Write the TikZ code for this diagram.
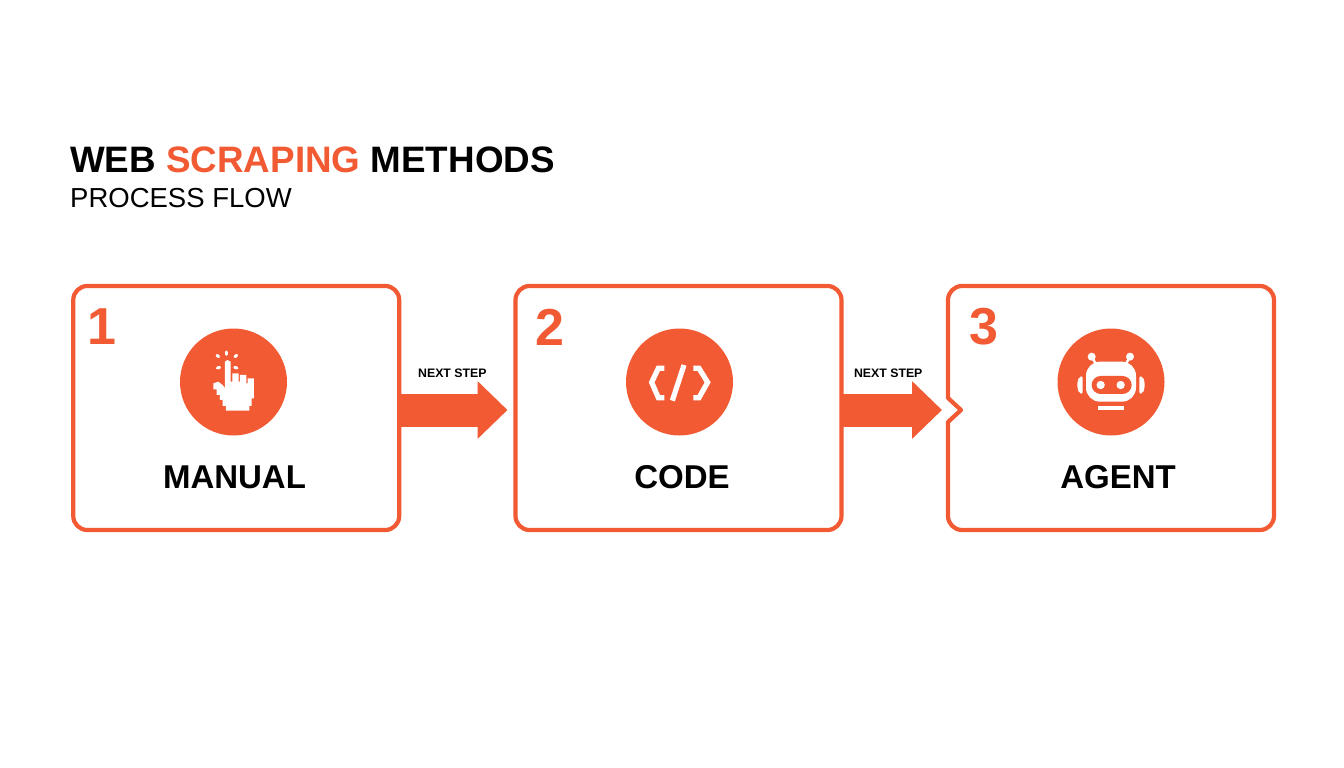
\documentclass[tikz,border=0pt]{standalone}
\usepackage{fontspec}
\setmainfont{Liberation Sans}
\usetikzlibrary{arrows.meta}
\definecolor{flamecol}{HTML}{F15A33}
\tikzset{
  boxline/.style={draw=flamecol, line width=4.2pt, line join=round},
  stepbox/.style={boxline, rounded corners=14pt, minimum width=326pt, minimum height=244pt, inner sep=0pt, outer sep=0pt},
  badge/.style={circle, fill=flamecol, minimum size=107pt, inner sep=0pt, outer sep=0pt},
  stepnum/.style={text=flamecol, inner sep=0pt, font=\bfseries\fontsize{52}{52}\selectfont},
  steptitle/.style={text=black, inner sep=0pt, font=\bfseries\fontsize{33}{36}\selectfont},
  steplabel/.style={text=black, inner sep=0pt, font=\bfseries\fontsize{12.3}{14}\selectfont},
  flowarrow/.style={draw=flamecol, line width=33pt, -{Triangle[length=30pt, width=56pt]}},
  iconpart/.style={fill=white, draw=none},
  iconline/.style={draw=white, line width=5.2pt},
  sparkline/.style={draw=white, line width=3pt, line cap=round},
  iconscale/.style={x=0.3333pt, y=-0.3333pt}
}
\begin{document}
\begin{tikzpicture}[x=1pt, y=-1pt]
  \newcommand\YBox{408};
  \newcommand\YIcon{382};
  \newcommand\YName{477};

  \useasboundingbox (0, 0) rectangle (1344, 768);

  %% heading
  \node[anchor=base west, inner sep=0pt, font=\bfseries\fontsize{36.8}{40}\selectfont] (title) at (70, 172)
    {WEB \textcolor{flamecol}{SCRAPING} METHODS};
  \node[anchor=base west, inner sep=0pt, font=\fontsize{27.5}{30}\selectfont] (subtitle) at (70, 207) {PROCESS FLOW};

  %% the three boxes
  \node[stepbox] (manual) at (236.25, \YBox) {};
  \node[stepbox] (code) at (678.5, \YBox) {};
  \node[stepbox, draw=none] (agent) at (1111, \YBox) {};
  \draw[boxline] ([yshift=10pt]agent.west) [rounded corners=14pt] -- (agent.north west)
    -- (agent.north east) -- (agent.south east) -- (agent.south west) [sharp corners]
    -- ([yshift=-14pt]agent.west) -- ([xshift=13pt, yshift=-2pt]agent.west) -- cycle;

  \node[stepnum] (numone) at (102, 327) {1};
  \node[stepnum] (numtwo) at (550, 327) {2};
  \node[stepnum] (numthree) at (984, 327) {3};

  \node[badge] (handbadge) at (233.5, \YIcon) {};
  \node[badge] (codebadge) at (679.5, \YIcon) {};
  \node[badge] (botbadge) at (1111, \YIcon) {};

  \node[steptitle] (manualname) at (234.5, \YName) {MANUAL};
  \node[steptitle] (codename) at (682, \YName) {CODE};
  \node[steptitle] (agentname) at (1118, \YName) {AGENT};

  %% arrows
  \draw[flowarrow, shorten >=8pt] ([yshift=-2pt]manual.east) --
    node[steplabel, xshift=-5pt, yshift=37pt]{NEXT STEP} ([yshift=-2pt]code.west);
  \draw[flowarrow, shorten >=6pt] ([yshift=-2pt]code.east) --
    node[steplabel, xshift=-6.5pt, yshift=37pt]{NEXT STEP} ([yshift=-2pt]agent.west);

  %% hand
  \begin{scope}[shift={(170, 320)}, iconscale]
    \fill[iconpart] (165,125) -- (172,120) -- (182,125) -- (182,185) -- (187,185) -- (187,160)
      -- (206,160) -- (206,185) -- (210,185) -- (210,165) -- (229,165) -- (229,190) -- (233,190)
      -- (233,175) -- (252,175) -- (252,235) -- (245,235) -- (245,258) -- (238,258) -- (238,272)
      -- (168,272) -- (168,258) -- (158,258) -- (158,240) -- (150,240) -- (150,225) -- (140,225)
      -- (140,208) -- (130,208) -- (130,190) -- (145,185) -- (158,195) -- (165,205) -- cycle;
    \draw[sparkline] (170,96) -- (170,103);
    \draw[sparkline] (141,106) -- (146,110);
    \draw[sparkline] (200,106) -- (195,110);
    \draw[sparkline] (142,144) -- (149,142);
    \draw[sparkline] (194,142) -- (201,144);
  \end{scope}

  %% code brackets
  \begin{scope}[shift={(615, 320)}, iconscale]
    \draw[iconline] (148,145) -- (130,145) -- (110,187) -- (130,233) -- (148,233);
    \draw[iconline] (207,135) -- (172,242);
    \draw[iconline] (235,145) -- (252,145) -- (278,187) -- (252,233) -- (235,233);
  \end{scope}

  %% robot
  \begin{scope}[shift={(1050, 320)}, iconscale]
    \draw[iconline, line width=2.4pt] (125,110) -- (142,140);
    \draw[iconline, line width=2.4pt] (240,110) -- (223,140);
    \fill[iconpart] (125,110) circle[radius=12];
    \fill[iconpart] (240,110) circle[radius=12];
    \fill[iconpart, rounded corners=14pt] (108,125) rectangle (258,245);
    \fill[flamecol, rounded corners=9pt] (125,168) rectangle (245,222);
    \fill[iconpart] (152,195) circle[radius=12.5];
    \fill[iconpart] (212,195) circle[radius=12.5];
    \fill[iconpart, rounded corners=2pt] (98,168) -- (88,170) -- (82,185) -- (82,205) -- (88,220) -- (98,222) -- cycle;
    \fill[iconpart, rounded corners=2pt] (268,168) -- (278,170) -- (284,185) -- (284,205) -- (278,220) -- (268,222) -- cycle;
    \fill[iconpart] (145,257) rectangle (222,270);
  \end{scope}
\end{tikzpicture}
\end{document}
